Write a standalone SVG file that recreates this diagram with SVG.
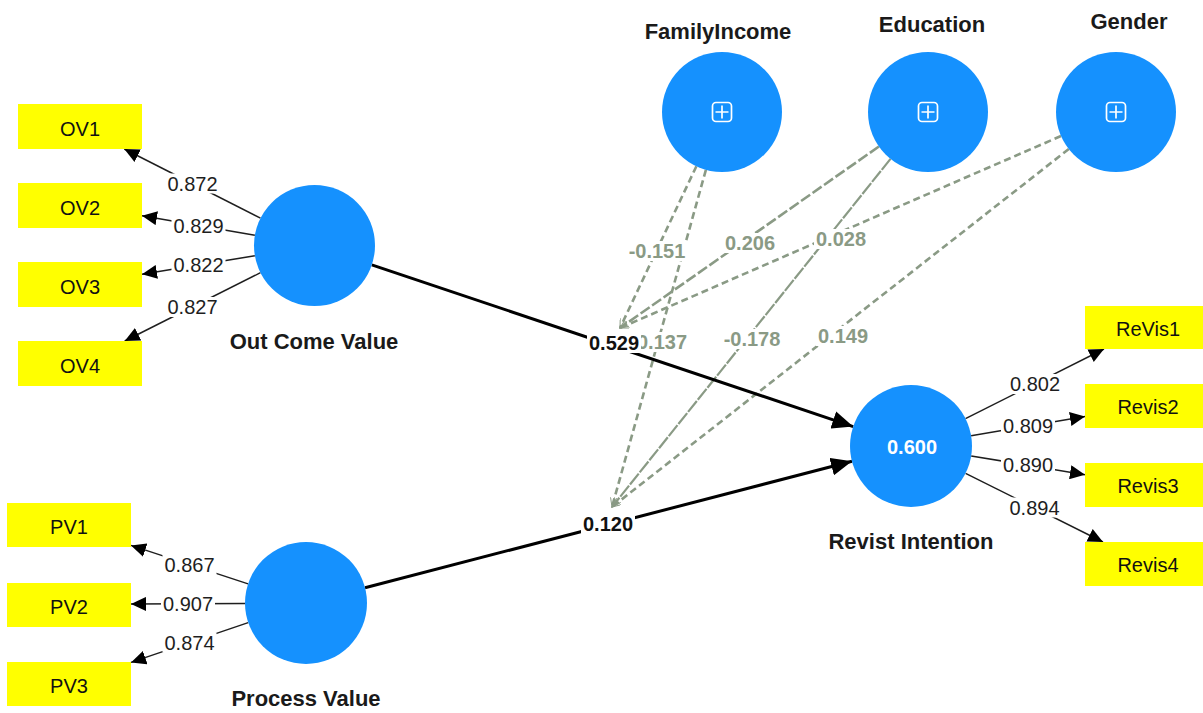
<svg xmlns="http://www.w3.org/2000/svg" width="1203" height="713" viewBox="0 0 1203 713">
  <style>
    .lv { fill: #1591fe; }
    .ind { fill: #ffff00; }
    .indt { font-family: "Liberation Sans", Arial, sans-serif; font-size: 20px; fill: #111; text-anchor: middle; }
    .name { font-family: "Liberation Sans", Arial, sans-serif; font-size: 22px; font-weight: bold; fill: #1a1a1a; text-anchor: middle; }
    .r2 { font-family: "Liberation Sans", Arial, sans-serif; font-size: 20px; font-weight: bold; fill: #ffffff; text-anchor: middle; }
    .icon { fill: none; stroke: #ffffff; stroke-width: 1.7; }
    .load { stroke: #1e1e1e; stroke-width: 1.5; fill: none; marker-end: url(#ah); }
    .path { stroke: #000; stroke-width: 3; fill: none; marker-end: url(#ahBig); }
    .mod { stroke: #8a9a85; stroke-width: 2.6; fill: none; stroke-dasharray: 7 4; marker-end: url(#ahMod); }
    .bg { fill: #ffffff; }
    .lt { font-family: "Liberation Sans", Arial, sans-serif; font-size: 20px; fill: #1e1e1e; text-anchor: middle; }
    .pt { font-family: "Liberation Sans", Arial, sans-serif; font-size: 20px; font-weight: bold; fill: #111; text-anchor: middle; }
    .mt { font-family: "Liberation Sans", Arial, sans-serif; font-size: 20px; font-weight: bold; fill: #8a9a85; text-anchor: middle; }
  </style>
  <defs>
    <marker id="ah" markerUnits="userSpaceOnUse" viewBox="0 0 16 14" markerWidth="16" markerHeight="14" refX="15" refY="7" orient="auto">
      <path d="M0,0 L15,7 L0,14 z" fill="#000"/>
    </marker>
    <marker id="ahBig" markerUnits="userSpaceOnUse" viewBox="0 0 22 18" markerWidth="22" markerHeight="18" refX="21" refY="9" orient="auto">
      <path d="M0,0 L21,9 L0,18 z" fill="#000"/>
    </marker>
    <marker id="ahMod" markerUnits="userSpaceOnUse" viewBox="0 0 10 8" markerWidth="10" markerHeight="8" refX="9" refY="4" orient="auto">
      <path d="M0,0 L9,4 L0,8" fill="none" stroke="#8a9a85" stroke-width="1"/>
    </marker>
  </defs>
  <rect width="1203" height="713" fill="#ffffff"/>

  <!-- connectors -->
  <g id="connectors">
    <!-- moderating effects -->
    <line class="mod" x1="696.4" y1="166.2" x2="620" y2="328"/>
    <line class="mod" x1="705.9" y1="169.8" x2="612" y2="507"/>
    <line class="mod" x1="878.9" y1="146.5" x2="620" y2="328" style="stroke-dasharray: 11 3"/>
    <line class="mod" x1="890.5" y1="158.9" x2="612" y2="507" style="stroke-dasharray: 14 1.5; stroke-width: 2.2"/>
    <line class="mod" x1="1061" y1="136" x2="620" y2="328"/>
    <line class="mod" x1="1068.8" y1="149" x2="612" y2="507"/>

    <!-- outer loadings -->
    <line class="load" x1="260.5" y1="218.1" x2="124.3" y2="149"/>
    <line class="load" x1="254.9" y1="235.2" x2="142" y2="215.7"/>
    <line class="load" x1="254.9" y1="255.8" x2="142" y2="274.3"/>
    <line class="load" x1="260.5" y1="272.7" x2="124.7" y2="341"/>
    <line class="load" x1="248.1" y1="583.9" x2="131" y2="545.4"/>
    <line class="load" x1="245" y1="603.4" x2="131" y2="604"/>
    <line class="load" x1="248.2" y1="622.6" x2="131" y2="662.4"/>
    <line class="load" x1="965.5" y1="418.6" x2="1104" y2="349"/>
    <line class="load" x1="971.1" y1="435.8" x2="1085" y2="416.5"/>
    <line class="load" x1="971.2" y1="455.9" x2="1085" y2="474.7"/>
    <line class="load" x1="965.6" y1="473.3" x2="1103" y2="542"/>

    <!-- structural paths -->
    <line class="path" x1="371.8" y1="264.8" x2="853.2" y2="426.6"/>
    <line class="path" x1="365" y1="587.7" x2="852" y2="461.3"/>

    <!-- moderating effect values -->
    <rect class="bg" x="627" y="241" width="60" height="20"/>
    <text class="mt" x="657" y="258">-0.151</text>
    <rect class="bg" x="635" y="332" width="54" height="20"/>
    <text class="mt" x="662" y="349">0.137</text>
    <rect class="bg" x="723" y="233" width="54" height="20"/>
    <text class="mt" x="750" y="250">0.206</text>
    <rect class="bg" x="722" y="329" width="60" height="20"/>
    <text class="mt" x="752" y="346">-0.178</text>
    <rect class="bg" x="814" y="229" width="54" height="20"/>
    <text class="mt" x="841" y="246">0.028</text>
    <rect class="bg" x="816" y="326" width="54" height="20"/>
    <text class="mt" x="843" y="343">0.149</text>

    <!-- loading values -->
    <rect class="bg" x="165.5" y="173.5" width="54" height="20"/>
    <text class="lt" x="192.5" y="190.7">0.872</text>
    <rect class="bg" x="171.5" y="215.5" width="54" height="20"/>
    <text class="lt" x="198.5" y="232.7">0.829</text>
    <rect class="bg" x="171.5" y="255" width="54" height="20"/>
    <text class="lt" x="198.5" y="272.2">0.822</text>
    <rect class="bg" x="165.5" y="297" width="54" height="20"/>
    <text class="lt" x="192.5" y="314.2">0.827</text>
    <rect class="bg" x="162.5" y="555" width="54" height="20"/>
    <text class="lt" x="189.5" y="572.2">0.867</text>
    <rect class="bg" x="161" y="594" width="54" height="20"/>
    <text class="lt" x="188" y="611.2">0.907</text>
    <rect class="bg" x="162.5" y="632.5" width="54" height="20"/>
    <text class="lt" x="189.5" y="649.7">0.874</text>
    <rect class="bg" x="1008" y="374" width="54" height="20"/>
    <text class="lt" x="1035" y="391.2">0.802</text>
    <rect class="bg" x="1001" y="416" width="54" height="20"/>
    <text class="lt" x="1028" y="433.2">0.809</text>
    <rect class="bg" x="1001" y="455" width="54" height="20"/>
    <text class="lt" x="1028" y="472.2">0.890</text>
    <rect class="bg" x="1007.5" y="497.5" width="54" height="20"/>
    <text class="lt" x="1034.5" y="514.7">0.894</text>

    <!-- path coefficients -->
    <rect class="bg" x="587" y="333" width="54" height="20"/>
    <text class="pt" x="614" y="350.2">0.529</text>
    <rect class="bg" x="581" y="514" width="54" height="20"/>
    <text class="pt" x="608" y="531.2">0.120</text>
  </g>

  <!-- latent variables -->
  <g id="out-come-value">
    <circle class="lv" cx="314.5" cy="245.5" r="60.5"/>
    <text class="name" x="314" y="349">Out Come Value</text>
  </g>
  <g id="process-value">
    <circle class="lv" cx="306" cy="603" r="61"/>
    <text class="name" x="306" y="706">Process Value</text>
  </g>
  <g id="revist-intention">
    <circle class="lv" cx="911" cy="446" r="61"/>
    <text class="r2" x="912" y="454">0.600</text>
    <text class="name" x="911" y="549">Revist Intention</text>
  </g>
  <g id="family-income">
    <circle class="lv" cx="722" cy="112" r="60"/>
    <rect class="icon" x="712.5" y="102.5" width="19" height="19" rx="3.5"/>
    <path class="icon" d="M715.5,112 H728.5 M722,105.5 V118.5"/>
    <text class="name" x="718" y="39">FamilyIncome</text>
  </g>
  <g id="education">
    <circle class="lv" cx="928" cy="112" r="60"/>
    <rect class="icon" x="918.5" y="102.5" width="19" height="19" rx="3.5"/>
    <path class="icon" d="M921.5,112 H934.5 M928,105.5 V118.5"/>
    <text class="name" x="932" y="32">Education</text>
  </g>
  <g id="gender">
    <circle class="lv" cx="1116" cy="112" r="60"/>
    <rect class="icon" x="1106.5" y="102.5" width="19" height="19" rx="3.5"/>
    <path class="icon" d="M1109.5,112 H1122.5 M1116,105.5 V118.5"/>
    <text class="name" x="1129" y="29">Gender</text>
  </g>

  <!-- indicators -->
  <g id="OV1"><rect class="ind" x="18" y="104" width="124" height="45"/><text class="indt" x="80" y="136">OV1</text></g>
  <g id="OV2"><rect class="ind" x="18" y="183" width="124" height="45"/><text class="indt" x="80" y="215">OV2</text></g>
  <g id="OV3"><rect class="ind" x="18" y="262" width="124" height="45"/><text class="indt" x="80" y="294">OV3</text></g>
  <g id="OV4"><rect class="ind" x="18" y="341" width="124" height="45"/><text class="indt" x="80" y="373">OV4</text></g>
  <g id="PV1"><rect class="ind" x="7" y="503" width="124" height="44"/><text class="indt" x="69" y="534">PV1</text></g>
  <g id="PV2"><rect class="ind" x="7" y="583" width="124" height="44"/><text class="indt" x="69" y="614">PV2</text></g>
  <g id="PV3"><rect class="ind" x="7" y="662" width="124" height="44"/><text class="indt" x="69" y="693">PV3</text></g>
  <g id="ReVis1"><rect class="ind" x="1085" y="306" width="124" height="43"/><text class="indt" x="1148" y="336">ReVis1</text></g>
  <g id="Revis2"><rect class="ind" x="1085" y="384" width="124" height="44"/><text class="indt" x="1148" y="414">Revis2</text></g>
  <g id="Revis3"><rect class="ind" x="1085" y="463" width="124" height="44"/><text class="indt" x="1148" y="493">Revis3</text></g>
  <g id="Revis4"><rect class="ind" x="1085" y="542" width="124" height="44"/><text class="indt" x="1148" y="572">Revis4</text></g>
</svg>
